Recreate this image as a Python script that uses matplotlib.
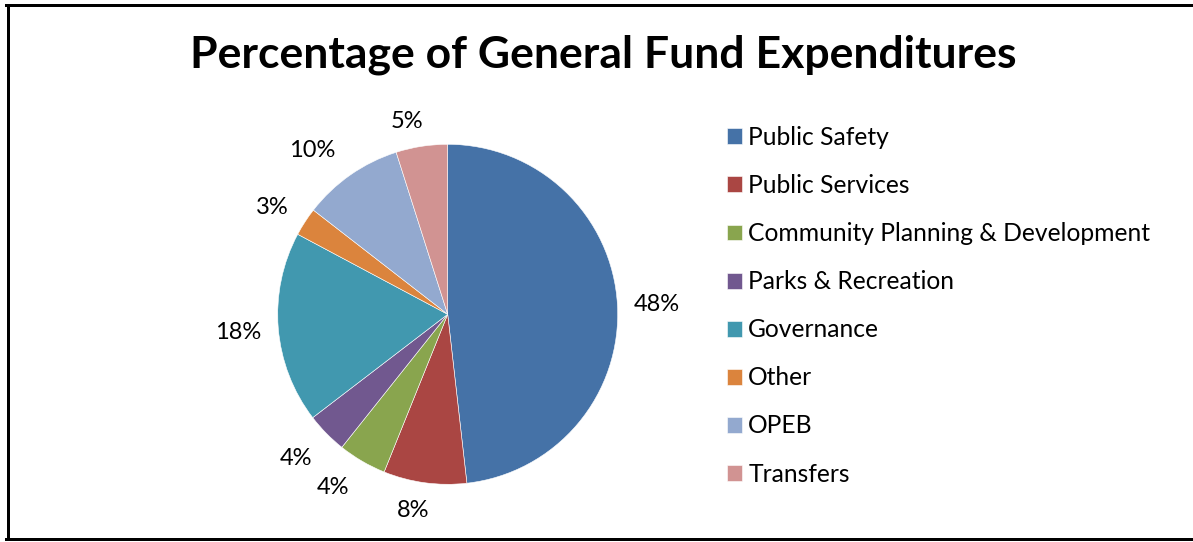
import matplotlib
matplotlib.use("Agg")
import numpy as np
import matplotlib.pyplot as plt
from matplotlib.lines import Line2D

# データ
categories = ['Public Safety', 'Public Services', 'Community Planning & Development',
              'Parks & Recreation', 'Governance', 'Other', 'OPEB', 'Transfers']
values = [48.2, 7.9, 4.6, 3.9, 18.2, 2.7, 9.6, 4.9]
pct_labels = ['48%', '8%', '4%', '4%', '18%', '3%', '10%', '5%']
colors = ['#4572A7', '#AA4643', '#89A54E', '#71588F', '#4198AF', '#DB843D', '#93A9CF', '#D19392']

# ラベル配置の調整（半径比と角度のずれ）
label_dist = [1.23, 1.17, 1.22, 1.23, 1.24, 1.21, 1.25, 1.16]
label_shift = [0.5, 2.3, 3.2, 0.8, -0.4, -1.7, -4.8, -3.2]

W, H = 1193, 542
plt.rcParams['font.family'] = ['Lato', 'DejaVu Sans']

fig = plt.figure(figsize=(W / 100, H / 100), dpi=100)

# 円グラフの位置（ピクセル単位）
cx, cy, r = 447.7, 314.3, 170
ax = fig.add_axes([(cx - r) / W, (H - cy - r) / H, 2 * r / W, 2 * r / H])
wedges, texts = ax.pie(values, labels=pct_labels, colors=colors, startangle=90,
                       counterclock=False,
                       wedgeprops=dict(edgecolor='white', linewidth=0.4),
                       textprops=dict(fontsize=17, color='black'))
for w, t, d, s in zip(wedges, texts, label_dist, label_shift):
    ang = np.deg2rad((w.theta1 + w.theta2) / 2 - s)
    t.set_position((d * np.cos(ang), d * np.sin(ang)))
    t.set_horizontalalignment('center')
    t.set_verticalalignment('center')
ax.set_xlim(-1, 1)
ax.set_ylim(-1, 1)
ax.set_aspect('equal')

fig.text(603 / W, 1 - 55 / H, 'Percentage of General Fund Expenditures',
         ha='center', va='center', fontsize=32, fontweight='bold')

leg = fig.legend(wedges, categories, loc='upper left',
                 bbox_to_anchor=(727 / W, 1 - 126 / H), frameon=False,
                 fontsize=17.7, handlelength=0.62, handleheight=0.62,
                 handletextpad=0.24, labelspacing=1.02, borderaxespad=0,
                 borderpad=0)

# 枠線
lw = 3 * 72 / 100
fig.add_artist(Line2D([8 / W, 8 / W], [1 - 4.5 / H, 1 - 539 / H], color='black', lw=lw))
fig.add_artist(Line2D([6.5 / W, 1], [1 - 4.5 / H, 1 - 4.5 / H], color='black', lw=lw))
fig.add_artist(Line2D([6.5 / W, 1], [1 - 539 / H, 1 - 539 / H], color='black', lw=lw))

plt.savefig('out.png', dpi=100)
